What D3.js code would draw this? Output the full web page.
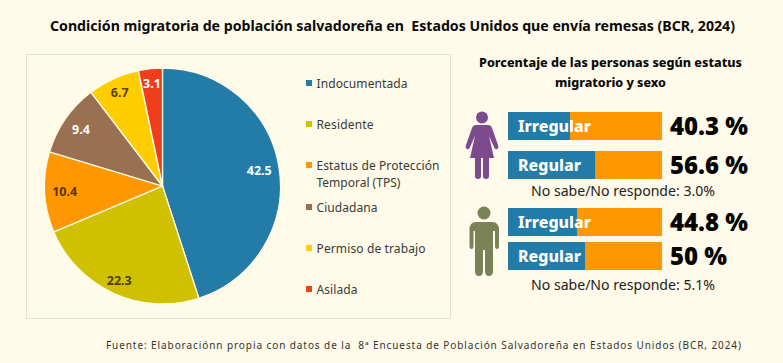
<!DOCTYPE html>
<html><head><meta charset="utf-8">
<script src="https://cdn.jsdelivr.net/npm/d3@7"></script>
<style>html,body{margin:0;padding:0;background:#fffae9}svg{display:block}text{font-family:"Noto Sans",sans-serif}</style>
</head><body><svg id="c" width="783" height="363"></svg>
<script>
const categories=["Indocumentada","Residente","Estatus de Protección|Temporal (TPS)","Ciudadana","Permiso de trabajo","Asilada"];
const values=[42.5,22.3,10.4,9.4,6.7,3.1];
const colors=["#237ca8","#cfc100","#ff9800","#9a7150","#ffcd00","#ef3e1c"];
const labelColors=["#fff","#4a3f00","#5a3600","#fff","#5a4300","#fff"];
const legendY=[83,124,165,207,248,289];
const legendWidths=[91,57,123,61,109,41];
const barLabels=["Irregular","Regular","Irregular","Regular"];
const barValues=[40.3,56.6,44.8,50];
const barTexts=["40.3 %","56.6 %","44.8 %","50 %"];
const barY=[112,151,208,242];
const notes=["No sabe/No responde: 3.0%","No sabe/No responde: 5.1%"];
const noteY=[196,290];

const svg=d3.select("#c");
svg.append("rect").attr("width",783).attr("height",363).attr("fill","#fffae9");
const txt=(x,y,s,size,weight,fill,anchor,len,adj)=>{const t=svg.append("text").attr("x",x).attr("y",y).text(s)
 .attr("font-size",size).attr("font-weight",weight).attr("fill",fill).attr("text-anchor",anchor||"start");
 if(len)t.attr("textLength",len).attr("lengthAdjust",adj||"spacingAndGlyphs");return t;};

txt(50,31,"Condición migratoria de población salvadoreña en  Estados Unidos que envía remesas (BCR, 2024)",14.5,700,"#0a0a0a","start",685).attr("xml:space","preserve");
svg.append("rect").attr("x",26.5).attr("y",54.5).attr("width",424).attr("height",264).attr("fill","#fffbe8").attr("stroke","#e6e2d2");

const cx=162.5,cy=186,r=118;
const pie=d3.pie().sort(null)(values);
const arc=d3.arc().innerRadius(0).outerRadius(r);
const lab=[0.83,0.88,0.83,0.84,0.87,0.87];
const g=svg.append("g").attr("transform",`translate(${cx},${cy})`);
g.selectAll("path").data(pie).join("path").attr("d",arc).attr("fill",(d,i)=>colors[i]).attr("stroke","#fffbe8").attr("stroke-width",1.3);
g.selectAll("text").data(pie).join("text").text((d,i)=>values[i])
 .attr("transform",(d,i)=>{const a=(d.startAngle+d.endAngle)/2,R=r*lab[i];return `translate(${Math.sin(a)*R},${-Math.cos(a)*R+4.5})`;})
 .attr("text-anchor","middle").attr("font-size",12.5).attr("font-weight",700).attr("fill",(d,i)=>labelColors[i]);

categories.forEach((c,i)=>{
 svg.append("rect").attr("x",306).attr("y",legendY[i]-3).attr("width",6).attr("height",6).attr("fill",colors[i]);
 c.split("|").forEach((s,j)=>txt(316.5,legendY[i]+4.5+j*17,s,12,400,"#3a3a3a","start",j===0?legendWidths[i]:null,"spacing"));
});

txt(610.5,67,"Porcentaje de las personas según estatus",13,800,"#0a0a0a","middle",263);
txt(610.5,87,"migratorio y sexo",13,800,"#0a0a0a","middle",111);

const x=d3.scaleLinear().domain([0,100]).range([508,662]);
barValues.forEach((v,i)=>{
 svg.append("rect").attr("x",x(0)).attr("y",barY[i]).attr("width",x(100)-x(0)).attr("height",28).attr("fill","#ff9800");
 svg.append("rect").attr("x",x(0)).attr("y",barY[i]).attr("width",x(v)-x(0)).attr("height",28).attr("fill","#237ca8");
 txt(518,barY[i]+20,barLabels[i],16,800,"#fff","start",barLabels[i]==="Irregular"?73:63);
 txt(670,barY[i]+23,barTexts[i],24,900,"#050505","start",barTexts[i].length>4?78:57);
});
notes.forEach((n,i)=>txt(623,noteY[i],n,14,400,"#222","middle",184));

// Person pictograms
const w=svg.append("g").attr("fill","#7d4a8e");
w.append("circle").attr("cx",482).attr("cy",117.500).attr("r",6);
w.append("path").attr("d","M476 125H488Q491 125 492 128L498 145Q499 148 497 149Q495 150 494 147L489 136L494 158H489V176Q489 179 486 179Q483 179 483 176V158H481V176Q481 179 478 179Q475 179 475 176V158H470L475 136L470 147Q469 150 467 149Q465 148 466 145L472 128Q473 125 476 125Z");
const m=svg.append("g").attr("fill","#7a8258");
m.append("circle").attr("cx",484).attr("cy",213).attr("r",6.500);
m.append("path").attr("d","M476 222H492Q499 222 499 230V246Q499 249 497 249Q495 249 495 246V231H493V271Q493 276 489 276Q485 276 485 271V250H483V271Q483 276 479 276Q475 276 475 271V231H473.500V246Q473.500 249 471.500 249Q469.500 249 469.500 246V230Q469.500 222 476 222Z");

txt(106,349,"Fuente: Elaboraciónn propia con datos de la  8ª Encuesta de Población Salvadoreña en Estados Unidos (BCR, 2024)",10,400,"#333","start",635,"spacing").attr("xml:space","preserve");
</script></body></html>
